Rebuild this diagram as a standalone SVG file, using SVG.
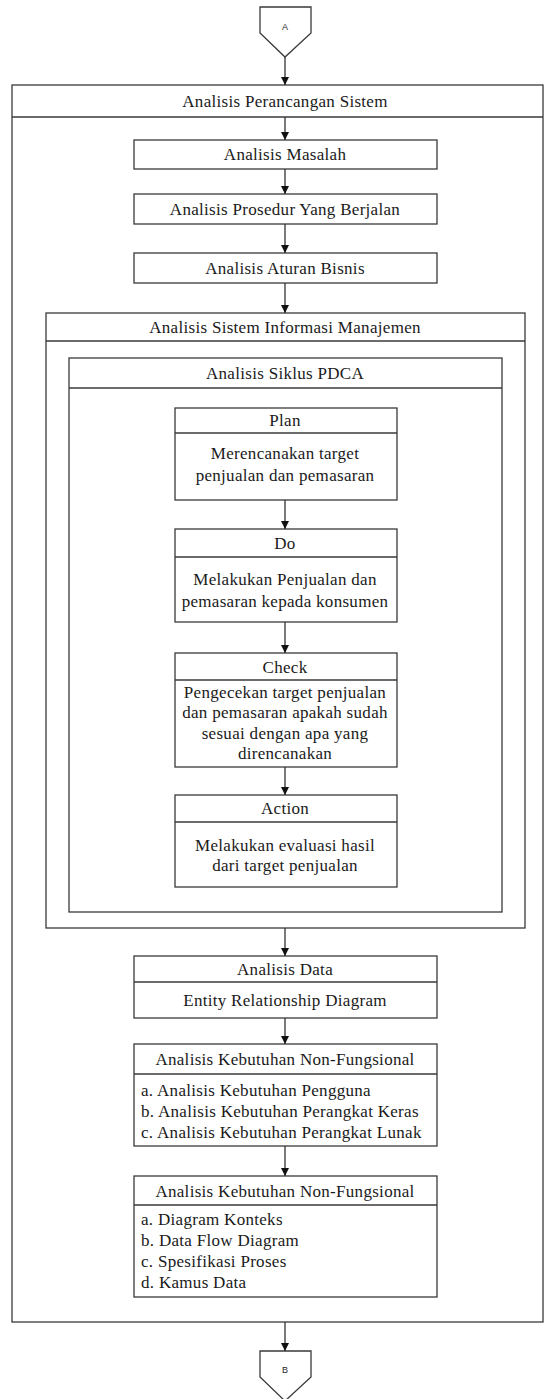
<svg xmlns="http://www.w3.org/2000/svg" width="545" height="1399" viewBox="0 0 545 1399">
<style>
.b{fill:#fff;stroke:#3a3a3a;stroke-width:1.3}
.l{stroke:#3a3a3a;stroke-width:1.3;fill:none}
.t{font-family:"Liberation Serif","Times New Roman",serif;font-size:17px;fill:#1a1a1a;text-anchor:middle;letter-spacing:0.3px}
.tl{font-family:"Liberation Serif","Times New Roman",serif;font-size:17px;fill:#1a1a1a;letter-spacing:0.3px}
.s{font-family:"Liberation Sans",Arial,sans-serif;font-size:9px;fill:#222;text-anchor:middle}
.c{stroke:#333;stroke-width:1.3;fill:none;marker-end:url(#ah)}
</style>
<defs>
<marker id="ah" viewBox="0 0 10 10" refX="10" refY="5" markerWidth="8" markerHeight="8" markerUnits="userSpaceOnUse" orient="auto">
<path d="M0,0 L10,5 L0,10 z" fill="#111"/>
</marker>
</defs>
<rect width="545" height="1399" fill="#fff"/>

<g id="connA">
<polygon class="b" points="260,7 311,7 311,33 285,57 260,33"/>
<text class="s" x="285" y="30">A</text>
</g>

<g id="outer">
<rect class="b" x="12" y="85" width="531" height="1237"/>
<line class="l" x1="12" y1="117" x2="543" y2="117"/>
<text class="t" x="285" y="107">Analisis Perancangan Sistem</text>
</g>

<g id="masalah">
<rect class="b" x="134" y="140" width="303" height="29"/>
<text class="t" x="285" y="160">Analisis Masalah</text>
</g>
<g id="prosedur">
<rect class="b" x="134" y="194" width="303" height="30"/>
<text class="t" x="285" y="215">Analisis Prosedur Yang Berjalan</text>
</g>
<g id="aturan">
<rect class="b" x="134" y="253" width="303" height="30"/>
<text class="t" x="285" y="274">Analisis Aturan Bisnis</text>
</g>

<g id="sim">
<rect class="b" x="46" y="313" width="479" height="615"/>
<line class="l" x1="46" y1="341" x2="525" y2="341"/>
<text class="t" x="285" y="333">Analisis Sistem Informasi Manajemen</text>
</g>

<g id="pdca">
<rect class="b" x="69" y="358" width="433" height="554"/>
<line class="l" x1="69" y1="388" x2="502" y2="388"/>
<text class="t" x="285" y="379">Analisis Siklus PDCA</text>
</g>

<g id="plan">
<rect class="b" x="175" y="408" width="222" height="92"/>
<line class="l" x1="175" y1="433" x2="397" y2="433"/>
<text class="t" x="285" y="426">Plan</text>
<text class="t" x="285" y="459">Merencanakan target</text>
<text class="t" x="285" y="481">penjualan dan pemasaran</text>
</g>

<g id="do">
<rect class="b" x="175" y="529" width="222" height="93"/>
<line class="l" x1="175" y1="557" x2="397" y2="557"/>
<text class="t" x="285" y="549">Do</text>
<text class="t" x="285" y="585">Melakukan Penjualan dan</text>
<text class="t" x="285" y="607">pemasaran kepada konsumen</text>
</g>

<g id="check">
<rect class="b" x="175" y="653" width="222" height="114"/>
<line class="l" x1="175" y1="680" x2="397" y2="680"/>
<text class="t" x="285" y="673">Check</text>
<text class="t" x="285" y="698">Pengecekan target penjualan</text>
<text class="t" x="285" y="718">dan pemasaran apakah sudah</text>
<text class="t" x="285" y="739">sesuai dengan apa yang</text>
<text class="t" x="285" y="759">direncanakan</text>
</g>

<g id="action">
<rect class="b" x="175" y="795" width="222" height="92"/>
<line class="l" x1="175" y1="822" x2="397" y2="822"/>
<text class="t" x="285" y="814">Action</text>
<text class="t" x="285" y="851">Melakukan evaluasi hasil</text>
<text class="t" x="285" y="871">dari target penjualan</text>
</g>

<g id="data">
<rect class="b" x="134" y="956" width="303" height="62"/>
<line class="l" x1="134" y1="982" x2="437" y2="982"/>
<text class="t" x="285" y="975">Analisis Data</text>
<text class="t" x="285" y="1006">Entity Relationship Diagram</text>
</g>

<g id="nf1">
<rect class="b" x="134" y="1044" width="303" height="102"/>
<line class="l" x1="134" y1="1074" x2="437" y2="1074"/>
<text class="t" x="285" y="1065">Analisis Kebutuhan Non-Fungsional</text>
<text class="tl" x="141" y="1096">a. Analisis Kebutuhan Pengguna</text>
<text class="tl" x="141" y="1117">b. Analisis Kebutuhan Perangkat Keras</text>
<text class="tl" x="141" y="1138">c. Analisis Kebutuhan Perangkat Lunak</text>
</g>

<g id="nf2">
<rect class="b" x="134" y="1176" width="303" height="121"/>
<line class="l" x1="134" y1="1205" x2="437" y2="1205"/>
<text class="t" x="285" y="1197">Analisis Kebutuhan Non-Fungsional</text>
<text class="tl" x="141" y="1225">a. Diagram Konteks</text>
<text class="tl" x="141" y="1246">b. Data Flow Diagram</text>
<text class="tl" x="141" y="1267">c. Spesifikasi Proses</text>
<text class="tl" x="141" y="1288">d. Kamus Data</text>
</g>

<g id="connB">
<polygon class="b" points="260,1351 311,1351 311,1377 285,1401 260,1377"/>
<text class="s" x="285" y="1373">B</text>
</g>

<g id="connectors">
<line class="c" x1="285" y1="57" x2="285" y2="85"/>
<line class="c" x1="285" y1="117" x2="285" y2="140"/>
<line class="c" x1="285" y1="169" x2="285" y2="194"/>
<line class="c" x1="285" y1="224" x2="285" y2="253"/>
<line class="c" x1="285" y1="283" x2="285" y2="313"/>
<line class="c" x1="285" y1="500" x2="285" y2="529"/>
<line class="c" x1="285" y1="622" x2="285" y2="653"/>
<line class="c" x1="285" y1="767" x2="285" y2="795"/>
<line class="c" x1="285" y1="928" x2="285" y2="956"/>
<line class="c" x1="285" y1="1018" x2="285" y2="1044"/>
<line class="c" x1="285" y1="1146" x2="285" y2="1176"/>
<line class="c" x1="285" y1="1322" x2="285" y2="1351"/>
</g>
</svg>
